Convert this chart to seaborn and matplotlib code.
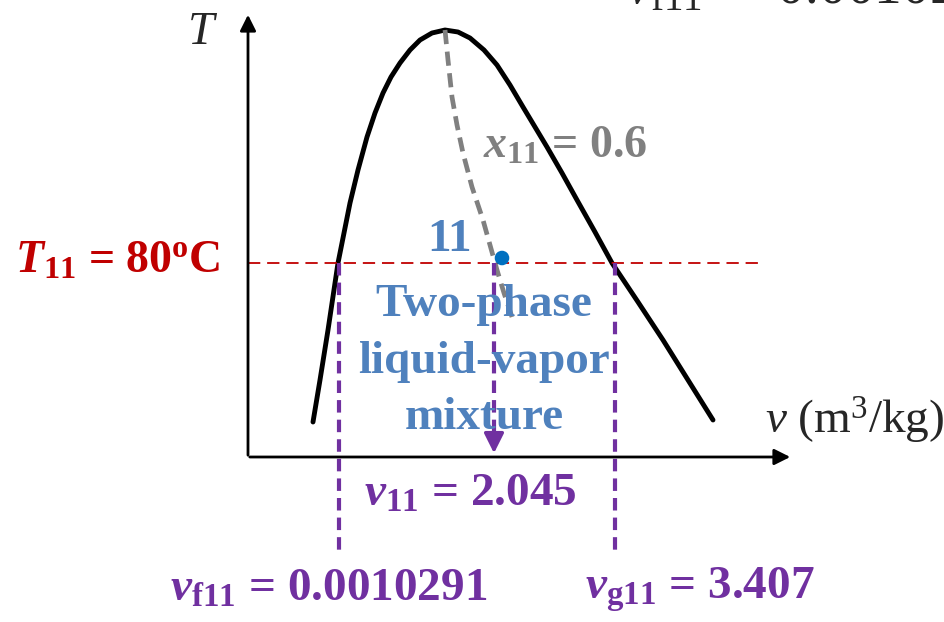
import matplotlib
matplotlib.use("Agg")
import matplotlib.pyplot as plt
import seaborn as sns

# schematic T-v diagram (pixel-like units, T axis pointing down)
dome_v = [313, 320, 328, 338, 350, 358, 367, 375, 383, 391, 400, 410, 420, 432, 445,
          458, 470, 484, 497, 510, 523, 535, 547, 562, 577, 595, 612, 638, 663, 688, 713]
dome_T = [422, 380, 330, 263, 203, 170, 137, 113, 93, 77, 63, 50, 40, 33, 30,
          32, 38, 50, 65, 85, 107, 127, 147, 173, 200, 232, 263, 302, 340, 380, 420]

quality_v = [445, 448, 452, 457, 463, 472, 483, 490, 497, 504, 512]
quality_T = [30, 60, 97, 125, 153, 187, 220, 245, 270, 293, 317]

T11 = 263
v_f11, v_11, v_g11 = 339, 494, 615
state_v, state_T = [502], [258]

axis_origin = (248, 457)
axis_v_end, axis_T_end = 793, 12

labels = {
    "T11": r"$\mathbfit{T}_{\mathbf{11}}$ = 80$^{\mathbf{o}}$C",
    "x11": r"$\mathbfit{x}_{\mathbf{11}}$ = 0.6",
    "v11": r"$\mathbfit{v}_{\mathbf{11}}$ = 2.045",
    "vf11": r"$\mathbfit{v}_{\mathbf{f11}}$ = 0.0010291",
    "vg11": r"$\mathbfit{v}_{\mathbf{g11}}$ = 3.407",
}

purple = "#7030A0"
red = "#C00000"
blue_txt = "#4F81BD"
gray = "#808080"

sns.set_theme(style="white")
plt.rcParams["font.family"] = ["Liberation Serif", "DejaVu Serif"]
plt.rcParams["mathtext.fontset"] = "custom"
plt.rcParams["mathtext.rm"] = "Liberation Serif"
plt.rcParams["mathtext.it"] = "Liberation Serif:italic"
plt.rcParams["mathtext.bf"] = "Liberation Serif:bold"
plt.rcParams["mathtext.bfit"] = "Liberation Serif:italic:bold"

fig = plt.figure(figsize=(9.45, 6.22), dpi=100)
ax = fig.add_axes([0, 0, 1, 1])
ax.set_xlim(0, 945)
ax.set_ylim(622, 0)
ax.axis("off")

# axes arrows
ax.annotate("", xy=(axis_v_end, axis_origin[1]), xytext=(axis_origin[0] - 1, axis_origin[1]),
            arrowprops=dict(arrowstyle="-|>", color="black", lw=2, mutation_scale=24))
ax.annotate("", xy=(axis_origin[0], axis_T_end), xytext=(axis_origin[0], axis_origin[1] + 1),
            arrowprops=dict(arrowstyle="-|>", color="black", lw=2, mutation_scale=24))

# saturation dome
sns.lineplot(x=dome_v, y=dome_T, sort=False, estimator=None, color="black", lw=3.5, ax=ax)

# quality line
ax.plot(quality_v, quality_T, color=gray, lw=3.4, dashes=(3.0, 1.6))

# isotherm
ax.plot([axis_origin[0], 760], [T11, T11], color=red, lw=1.3, dashes=(6.8, 3.8))

# purple verticals
for v in (v_f11, v_g11):
    ax.plot([v, v], [T11, 550], color=purple, lw=3, dashes=(3.0, 1.7))
ax.plot([v_11, v_11], [T11, 440], color=purple, lw=3, dashes=(3.0, 1.7))
ax.annotate("", xy=(v_11, axis_origin[1] - 1), xytext=(v_11, 436),
            arrowprops=dict(arrowstyle="-|>", color=purple, lw=2.5, mutation_scale=30))

# state point
sns.scatterplot(x=state_v, y=state_T, color="#0070C0", s=110, edgecolor="none", ax=ax, zorder=5)

# text
ax.text(203, 33, r"$\mathit{T}$", fontsize=34, ha="center", va="center")
ax.text(855, 420, r"$\mathit{v}$ (m$^3$/kg)", fontsize=34, ha="center", va="center")
ax.text(118, 262, labels["T11"], fontsize=33, color=red, fontweight="bold", ha="center", va="center")
ax.text(565, 147, labels["x11"], fontsize=33, color=gray, fontweight="bold", ha="center", va="center")
ax.text(450, 240, "11", fontsize=34, color=blue_txt, fontweight="bold", ha="center", va="center")
for txt, y in (("Two-phase", 305), ("liquid-vapor", 362), ("mixture", 418)):
    ax.text(484, y, txt, fontsize=34, color=blue_txt, fontweight="bold", ha="center", va="center")
ax.text(470, 495, labels["v11"], fontsize=34, color=purple, fontweight="bold", ha="center", va="center")
ax.text(329, 590, labels["vf11"], fontsize=34, color=purple, fontweight="bold", ha="center", va="center")
ax.text(700, 590, labels["vg11"], fontsize=34, color=purple, fontweight="bold", ha="center", va="center")

# cut-off text at the top right
ax.text(626, 3, r"$\mathit{v}_{\mathrm{f11}}$  = 0.0010291", fontsize=40, ha="left", va="baseline")

fig.savefig("out.png", dpi=100)
